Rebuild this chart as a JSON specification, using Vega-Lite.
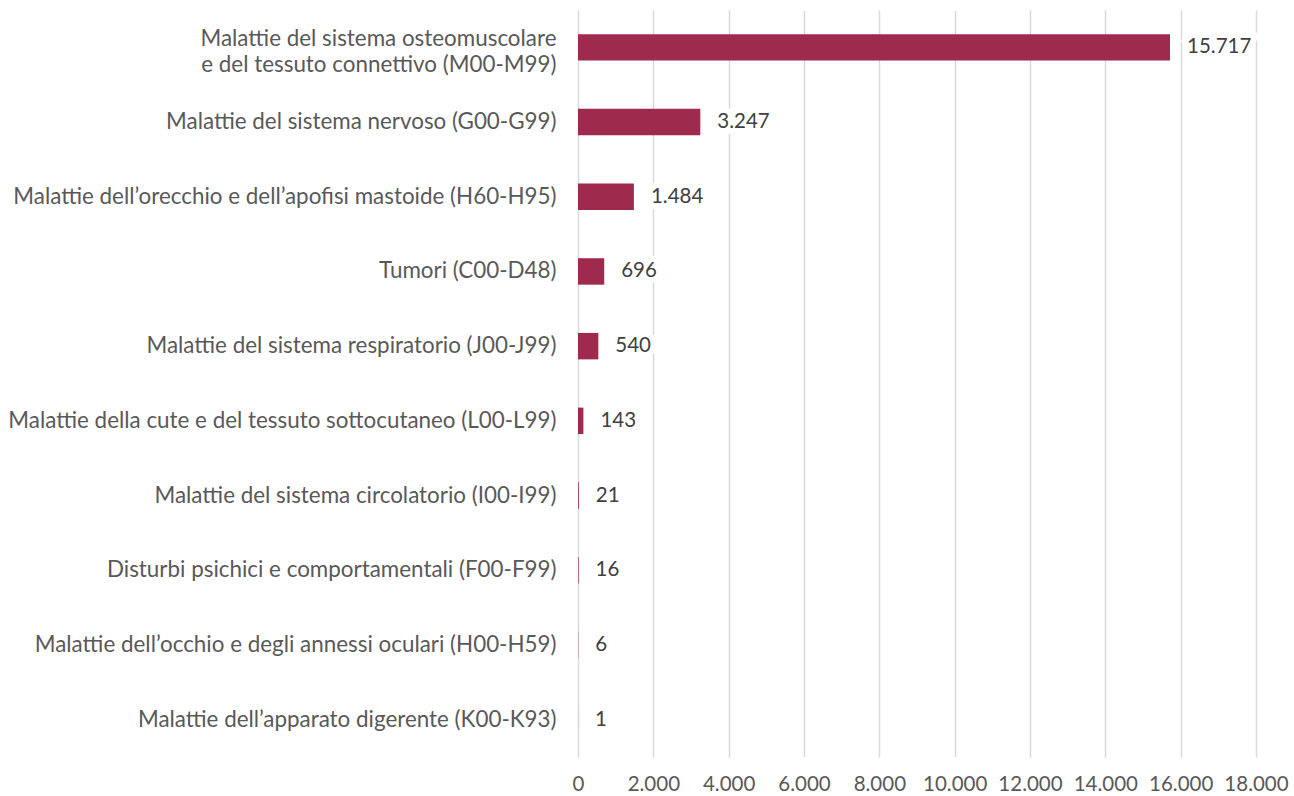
{
  "$schema": "https://vega.github.io/schema/vega-lite/v6.json",
  "autosize": {"type": "none"},
  "padding": {"left": 578, "top": 10, "right": 38, "bottom": 39},
  "width": 678,
  "height": 747,
  "background": "white",
  "config": {
    "locale": {"number": {"decimal": ",", "thousands": ".", "grouping": [3], "currency": ["€", ""]}},
    "view": {"stroke": null},
    "font": "Lato"
  },
  "data": {
    "values": [
      {"cat": "Malattie del sistema osteomuscolare|e del tessuto connettivo (M00-M99)", "v": 15717},
      {"cat": "Malattie del sistema nervoso (G00-G99)", "v": 3247},
      {"cat": "Malattie dell’orecchio e dell’apofisi mastoide (H60-H95)", "v": 1484},
      {"cat": "Tumori (C00-D48)", "v": 696},
      {"cat": "Malattie del sistema respiratorio (J00-J99)", "v": 540},
      {"cat": "Malattie della cute e del tessuto sottocutaneo (L00-L99)", "v": 143},
      {"cat": "Malattie del sistema circolatorio (I00-I99)", "v": 21},
      {"cat": "Disturbi psichici e comportamentali (F00-F99)", "v": 16},
      {"cat": "Malattie dell’occhio e degli annessi oculari (H00-H59)", "v": 6},
      {"cat": "Malattie dell’apparato digerente (K00-K93)", "v": 1}
    ]
  },
  "encoding": {
    "y": {
      "field": "cat", "type": "nominal", "sort": null,
      "scale": {"paddingInner": 0.646, "paddingOuter": 0.323},
      "axis": {
        "title": null, "domain": false, "ticks": false, "grid": false,
        "labelExpr": "split(datum.value, '|')",
        "labelFont": "Lato", "labelFontSize": 22.4, "labelColor": "#595959",
        "labelPadding": 22, "labelLimit": 640, "labelLineHeight": 26,
        "labelOffset": {"condition": {"test": "indexof(datum.value, '|') >= 0", "value": -8}, "value": 0}
      }
    },
    "x": {
      "field": "v", "type": "quantitative",
      "scale": {"domain": [0, 18000], "nice": false},
      "axis": {
        "title": null, "values": [0, 2000, 4000, 6000, 8000, 10000, 12000, 14000, 16000, 18000],
        "labelExpr": "format(datum.value, ',.0f')", "domain": false, "ticks": false,
        "grid": true, "gridColor": "#D9D9D9", "gridWidth": 1.5,
        "labelFont": "Lato", "labelFontSize": 20.5, "labelColor": "#595959",
        "labelPadding": 17, "labelFlush": false
      }
    }
  },
  "layer": [
    {"mark": {"type": "bar", "color": "#9E2A4E"}},
    {
      "mark": {"type": "text", "align": "left", "baseline": "middle", "dx": 17, "font": "Lato", "fontSize": 20.5, "fill": "white", "stroke": "white", "strokeWidth": 12, "strokeJoin": "miter"},
      "encoding": {"text": {"field": "v", "type": "quantitative", "format": ",.0f"}}
    },
    {
      "mark": {"type": "text", "align": "left", "baseline": "middle", "dx": 17, "font": "Lato", "fontSize": 20.5, "color": "#404040"},
      "encoding": {"text": {"field": "v", "type": "quantitative", "format": ",.0f"}}
    }
  ]
}
